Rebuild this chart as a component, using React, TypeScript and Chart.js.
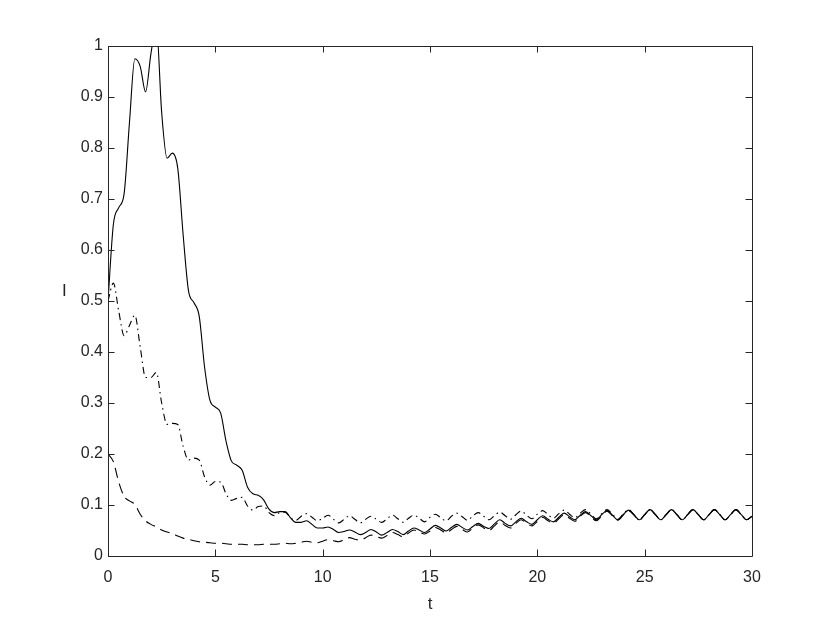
import React, { useEffect, useRef } from "react";
import { Chart, registerables } from "chart.js";

Chart.register(...registerables);

// time samples (t)
const T = [
  0, 0.25, 0.5, 0.75, 1, 1.25, 1.5, 1.75, 2, 2.25, 2.5, 2.75, 3, 3.25, 3.5, 3.75,
  4, 4.25, 4.5, 4.75, 5, 5.25, 5.5, 5.75, 6, 6.25, 6.5, 6.75, 7, 7.25, 7.5, 7.75,
  8, 8.25, 8.5, 8.75, 9, 9.25, 9.5, 9.75, 10, 10.25, 10.5, 10.75, 11, 11.25, 11.5, 11.75,
  12, 12.25, 12.5, 12.75, 13, 13.25, 13.5, 13.75, 14, 14.25, 14.5, 14.75, 15, 15.25, 15.5, 15.75,
  16, 16.25, 16.5, 16.75, 17, 17.25, 17.5, 17.75, 18, 18.25, 18.5, 18.75, 19, 19.25, 19.5, 19.75,
  20, 20.25, 20.5, 20.75, 21, 21.25, 21.5, 21.75, 22, 22.25, 22.5, 22.75, 23, 23.25, 23.5, 23.75,
  24, 24.25, 24.5, 24.75, 25, 25.25, 25.5, 25.75, 26, 26.25, 26.5, 26.75, 27, 27.25, 27.5, 27.75,
  28, 28.25, 28.5, 28.75, 29, 29.25, 29.5, 29.75, 30,
];

// solid line
const I_SOLID = [
  0.5, 0.65, 0.683, 0.71, 0.85, 0.975, 0.96, 0.91, 0.985, 1.04, 0.87, 0.78, 0.79, 0.76, 0.63, 0.52,
  0.497, 0.47, 0.37, 0.305, 0.292, 0.28, 0.225, 0.186, 0.178, 0.168, 0.135, 0.122, 0.119, 0.11, 0.092, 0.085,
  0.087, 0.087, 0.075, 0.066, 0.066, 0.069, 0.062, 0.055, 0.055, 0.057, 0.052, 0.046, 0.048, 0.051, 0.047, 0.042,
  0.046, 0.052, 0.047, 0.041, 0.046, 0.052, 0.048, 0.042, 0.049, 0.055, 0.051, 0.046, 0.053, 0.06, 0.055, 0.049,
  0.056, 0.062, 0.056, 0.051, 0.058, 0.064, 0.058, 0.054, 0.063, 0.071, 0.064, 0.059, 0.067, 0.074, 0.067, 0.062,
  0.071, 0.079, 0.072, 0.067, 0.076, 0.084, 0.077, 0.071, 0.08, 0.087, 0.079, 0.071, 0.081, 0.089, 0.08, 0.071,
  0.081, 0.09, 0.081, 0.071, 0.081, 0.091, 0.081, 0.071, 0.081, 0.091, 0.081, 0.071, 0.081, 0.091, 0.081, 0.071,
  0.081, 0.091, 0.081, 0.071, 0.081, 0.091, 0.081, 0.071, 0.078,
];

// dash-dot line
const I_DASHDOT = [
  0.5, 0.535, 0.48, 0.432, 0.452, 0.472, 0.41, 0.35, 0.35, 0.36, 0.3, 0.258, 0.26, 0.258, 0.215, 0.188,
  0.192, 0.188, 0.155, 0.139, 0.146, 0.145, 0.122, 0.109, 0.113, 0.115, 0.098, 0.09, 0.097, 0.098, 0.085, 0.079,
  0.085, 0.086, 0.075, 0.07, 0.078, 0.083, 0.076, 0.069, 0.074, 0.08, 0.072, 0.065, 0.072, 0.079, 0.072, 0.065,
  0.072, 0.078, 0.072, 0.066, 0.073, 0.08, 0.073, 0.066, 0.074, 0.08, 0.074, 0.067, 0.076, 0.082, 0.075, 0.069,
  0.078, 0.084, 0.077, 0.07, 0.079, 0.085, 0.078, 0.071, 0.079, 0.086, 0.079, 0.072, 0.081, 0.088, 0.08, 0.073,
  0.082, 0.089, 0.081, 0.074, 0.083, 0.09, 0.082, 0.075, 0.084, 0.091, 0.082, 0.073, 0.083, 0.091, 0.082, 0.072,
  0.082, 0.091, 0.081, 0.071, 0.081, 0.091, 0.081, 0.071, 0.081, 0.091, 0.081, 0.071, 0.081, 0.091, 0.081, 0.071,
  0.081, 0.091, 0.081, 0.071, 0.081, 0.091, 0.081, 0.071, 0.078,
];

// dashed line
const I_DASHED = [
  0.2, 0.185, 0.145, 0.117, 0.108, 0.101, 0.082, 0.069, 0.062, 0.057, 0.051, 0.047, 0.044, 0.039, 0.035, 0.033,
  0.03, 0.028, 0.027, 0.026, 0.025, 0.025, 0.024, 0.023, 0.023, 0.023, 0.022, 0.022, 0.022, 0.023, 0.023, 0.023,
  0.024, 0.025, 0.024, 0.025, 0.027, 0.029, 0.027, 0.026, 0.029, 0.032, 0.03, 0.028, 0.032, 0.036, 0.033, 0.031,
  0.036, 0.041, 0.038, 0.035, 0.04, 0.046, 0.042, 0.038, 0.045, 0.051, 0.047, 0.043, 0.049, 0.056, 0.051, 0.045,
  0.052, 0.058, 0.052, 0.047, 0.055, 0.061, 0.055, 0.05, 0.059, 0.067, 0.06, 0.055, 0.064, 0.071, 0.064, 0.059,
  0.068, 0.076, 0.069, 0.064, 0.073, 0.081, 0.074, 0.068, 0.078, 0.085, 0.077, 0.069, 0.079, 0.088, 0.079, 0.07,
  0.08, 0.089, 0.08, 0.07, 0.081, 0.091, 0.081, 0.071, 0.081, 0.091, 0.081, 0.071, 0.081, 0.091, 0.081, 0.071,
  0.081, 0.091, 0.081, 0.071, 0.081, 0.091, 0.081, 0.071, 0.078,
];

const X_TICKS = [0, 5, 10, 15, 20, 25, 30];
const Y_TICKS = [0, 0.1, 0.2, 0.3, 0.4, 0.5, 0.6, 0.7, 0.8, 0.9, 1];
const Y_TICK_LABELS = ["0", "0.1", "0.2", "0.3", "0.4", "0.5", "0.6", "0.7", "0.8", "0.9", "1"];
const X_LABEL = "t";
const Y_LABEL = "I";

const AXIS_COLOR = "#262626";
const FONT = "'Liberation Sans', Arial, Helvetica, sans-serif";

const toPoints = (ys: number[]) => ys.map((y, i) => ({ x: T[i], y }));

const boxTicksPlugin = {
  id: "boxTicks",
  afterDatasetsDraw(chart: any) {
    const { ctx, chartArea, scales } = chart;
    const { left, right, top, bottom } = chartArea;
    const len = 6.5;
    ctx.save();
    ctx.strokeStyle = AXIS_COLOR;
    ctx.lineWidth = 1;
    ctx.beginPath();
    ctx.rect(Math.round(left) + 0.5, Math.round(top) + 0.5, Math.round(right - left), Math.round(bottom - top));
    X_TICKS.forEach((v) => {
      const x = Math.round(scales.x.getPixelForValue(v)) + 0.5;
      ctx.moveTo(x, bottom);
      ctx.lineTo(x, bottom - len);
      ctx.moveTo(x, top);
      ctx.lineTo(x, top + len);
    });
    Y_TICKS.forEach((v) => {
      const y = Math.round(scales.y.getPixelForValue(v)) + 0.5;
      ctx.moveTo(left, y);
      ctx.lineTo(left + len, y);
      ctx.moveTo(right, y);
      ctx.lineTo(right - len, y);
    });
    ctx.stroke();
    ctx.restore();
  },
};

export default function App() {
  const canvasRef = useRef<HTMLCanvasElement | null>(null);

  useEffect(() => {
    const canvas = canvasRef.current;
    if (!canvas) return;
    const chart = new Chart(canvas, {
      type: "line",
      data: {
        datasets: [
          {
            data: toPoints(I_SOLID),
            borderColor: "#000000",
            borderWidth: 1.1,
            pointRadius: 0,
            cubicInterpolationMode: "monotone",
            fill: false,
          },
          {
            data: toPoints(I_DASHDOT),
            borderColor: "#000000",
            borderWidth: 1.1,
            borderDash: [7, 4, 1.5, 4],
            pointRadius: 0,
            cubicInterpolationMode: "monotone",
            fill: false,
          },
          {
            data: toPoints(I_DASHED),
            borderColor: "#000000",
            borderWidth: 1.1,
            borderDash: [10, 6],
            pointRadius: 0,
            cubicInterpolationMode: "monotone",
            fill: false,
          },
        ],
      },
      options: {
        animation: false,
        responsive: false,
        maintainAspectRatio: false,
        layout: { padding: { left: 0, right: 78, top: 46, bottom: 0 } },
        plugins: {
          legend: { display: false },
          tooltip: { enabled: false },
        },
        scales: {
          x: {
            type: "linear",
            min: 0,
            max: 30,
            afterBuildTicks: (scale: any) => {
              scale.ticks = X_TICKS.map((v) => ({ value: v }));
            },
            ticks: {
              color: AXIS_COLOR,
              font: { family: FONT, size: 16 },
              padding: 12,
              maxRotation: 0,
              callback: (v: any) => String(v),
            },
            grid: { display: false, drawTicks: false },
            border: { display: false },
            title: {
              display: true,
              text: X_LABEL,
              color: AXIS_COLOR,
              font: { family: FONT, size: 17 },
              padding: { top: 0, bottom: 8 },
            },
            afterFit: (scale: any) => {
              scale.height = 67;
            },
          },
          y: {
            type: "linear",
            min: 0,
            max: 1,
            afterBuildTicks: (scale: any) => {
              scale.ticks = Y_TICKS.map((v) => ({ value: v }));
            },
            ticks: {
              color: AXIS_COLOR,
              font: { family: FONT, size: 16 },
              padding: 5,
              callback: (v: any) => {
                const i = Y_TICKS.findIndex((t) => Math.abs(t - v) < 1e-6);
                return i >= 0 ? Y_TICK_LABELS[i] : "";
              },
            },
            grid: { display: false, drawTicks: false },
            border: { display: false },
            afterFit: (scale: any) => {
              scale.width = 108;
            },
          },
        },
      },
      plugins: [boxTicksPlugin],
    });
    return () => chart.destroy();
  }, []);

  return (
    <div style={{ position: "fixed", left: 0, top: 0, width: 830, height: 623, background: "#ffffff" }}>
      <canvas ref={canvasRef} width={830} height={623} style={{ display: "block" }} />
      <span
        style={{
          position: "absolute",
          left: 62,
          top: 281,
          fontFamily: FONT,
          fontSize: 17,
          color: AXIS_COLOR,
          lineHeight: "20px",
        }}
      >
        {Y_LABEL}
      </span>
    </div>
  );
}
